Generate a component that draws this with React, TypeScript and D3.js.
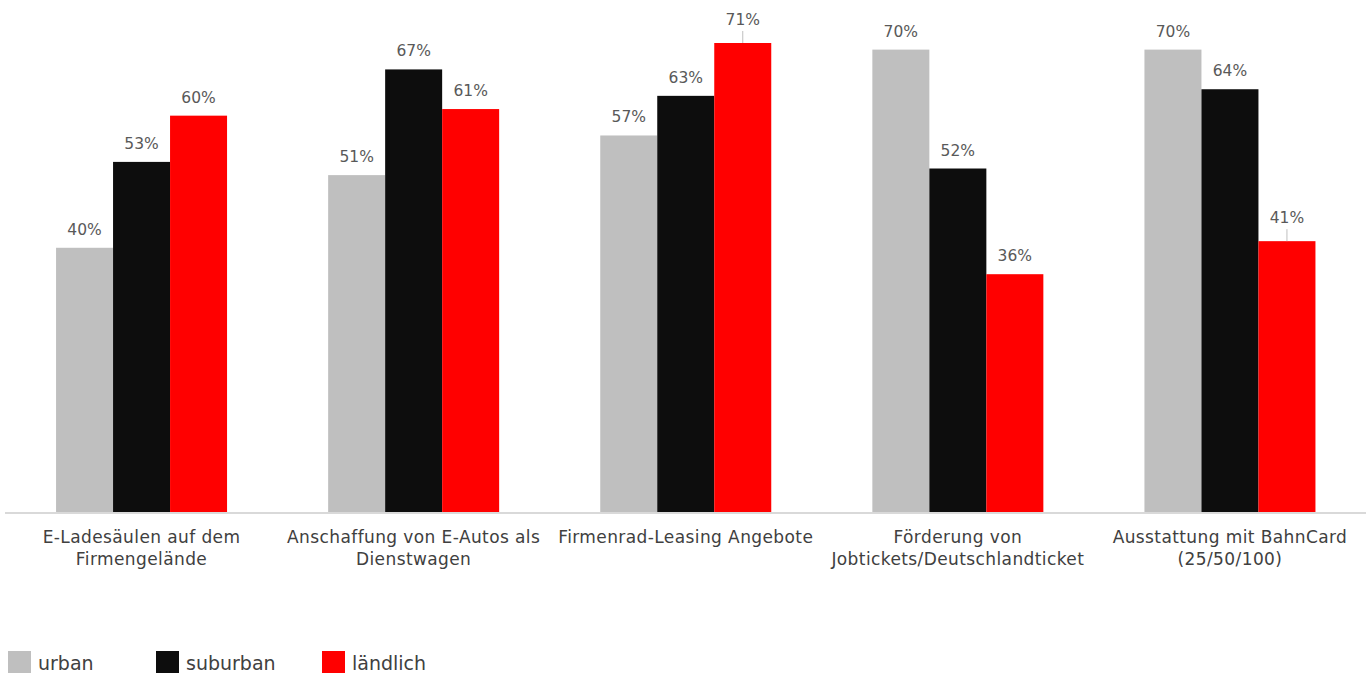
import React from "react";
import * as d3 from "d3";

const categories = [
  ["E-Ladesäulen auf dem", "Firmengelände"],
  ["Anschaffung von E-Autos als", "Dienstwagen"],
  ["Firmenrad-Leasing Angebote"],
  ["Förderung von", "Jobtickets/Deutschlandticket"],
  ["Ausstattung mit BahnCard", "(25/50/100)"],
];
const seriesNames = ["urban", "suburban", "ländlich"];
const urban = [40, 51, 57, 70, 70];
const suburban = [53, 67, 63, 52, 64];
const laendlich = [60, 61, 71, 36, 41];
const seriesValues = [urban, suburban, laendlich];
const colors = ["#bfbfbf", "#0d0d0d", "#ff0000"];
// labels drawn with a leader line (series index, category index)
const leaderLabels = [[2, 2], [2, 4]];

const W = 1371;
const H = 673;

export default function App() {
  const x0 = d3
    .scaleBand<number>()
    .domain(categories.map((_, i) => i))
    .range([5.5, 1366])
    .paddingInner(0)
    .paddingOuter(0);
  const groupW = 171;
  const x1 = d3
    .scaleBand<number>()
    .domain(seriesNames.map((_, i) => i))
    .range([0, groupW])
    .padding(0);
  const baseY = 512;
  const y = d3.scaleLinear().domain([0, 71]).range([baseY, 43]);

  const fontFam = "'DejaVu Sans', sans-serif";

  return (
    <svg
      width={W}
      height={H}
      style={{ position: "absolute", left: 0, top: 0, background: "#fff" }}
      fontFamily={fontFam}
    >
      {categories.map((lines, ci) => {
        const gx = (x0(ci) as number) + (x0.bandwidth() - groupW) / 2;
        return (
          <g key={ci} transform={`translate(${gx},0)`}>
            {seriesValues.map((vals, si) => {
              const v = vals[ci];
              const bx = x1(si) as number;
              const bw = x1.bandwidth();
              const top = y(v);
              const leader = leaderLabels.some(([s, c]) => s === si && c === ci);
              const labelY = leader ? top - 18 : top - 13;
              return (
                <g key={si}>
                  <rect
                    x={bx}
                    y={top}
                    width={bw}
                    height={baseY - top}
                    fill={colors[si]}
                  />
                  {leader && (
                    <line
                      x1={bx + bw / 2}
                      x2={bx + bw / 2}
                      y1={top - 12}
                      y2={top}
                      stroke="#bfbfbf"
                      strokeWidth={1}
                    />
                  )}
                  <text
                    x={bx + bw / 2}
                    y={labelY}
                    textAnchor="middle"
                    fontSize={15.5}
                    fill="#595959"
                  >
                    {v}%
                  </text>
                </g>
              );
            })}
          </g>
        );
      })}
      <line x1={5} x2={1366} y1={baseY + 1} y2={baseY + 1} stroke="#d9d9d9" strokeWidth={2} />
      {categories.map((lines, ci) => {
        const cx = (x0(ci) as number) + x0.bandwidth() / 2;
        return (
          <text key={ci} textAnchor="middle" fontSize={17} letterSpacing={0.4} fill="#404040">
            {lines.map((l, li) => (
              <tspan key={li} x={cx} y={543 + li * 22}>
                {l}
              </tspan>
            ))}
          </text>
        );
      })}
      {seriesNames.map((name, si) => {
        const lx = [8, 156, 322][si];
        return (
          <g key={si}>
            <rect x={lx} y={651} width={23} height={22} fill={colors[si]} />
            <text x={lx + 30} y={670} fontSize={19} fill="#404040">
              {name}
            </text>
          </g>
        );
      })}
    </svg>
  );
}
